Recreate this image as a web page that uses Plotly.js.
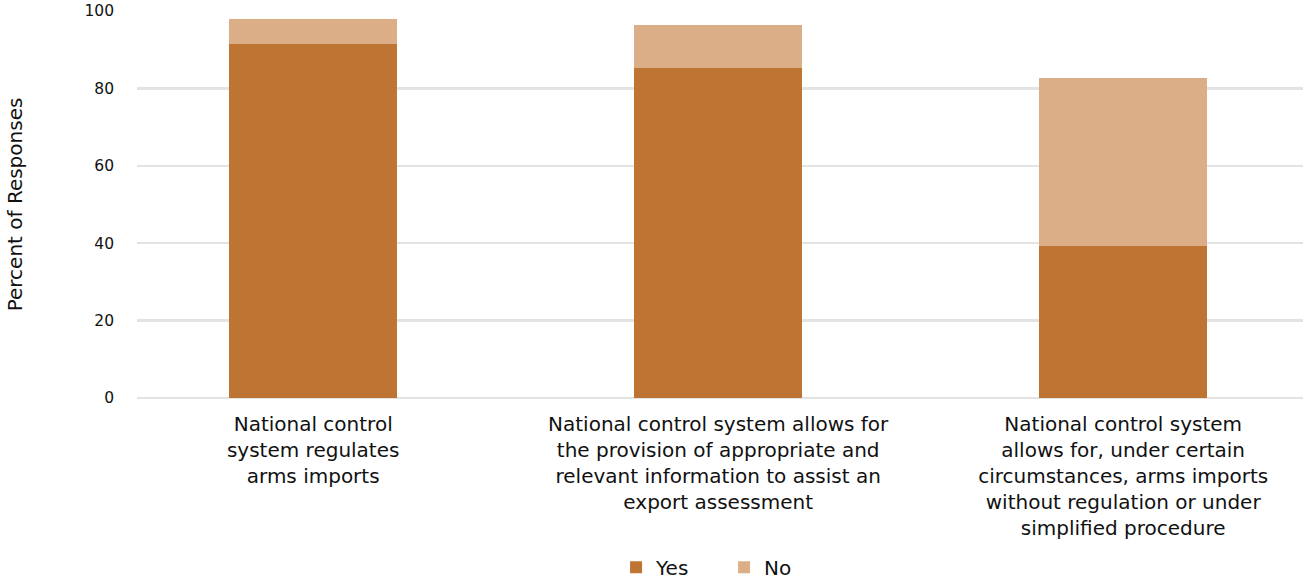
<!DOCTYPE html>
<html>
<head>
<meta charset="utf-8">
<script src="https://cdn.plot.ly/plotly-3.0.1.min.js"></script>
<style>html,body{margin:0;padding:0;background:#fff;}#chart{width:1303px;height:580px;}</style>
</head>
<body>
<div id="chart"></div>
<script>
const categories = [
  "National control<br>system regulates<br>arms imports",
  "National control system allows for<br>the provision of appropriate and<br>relevant information to assist an<br>export assessment",
  "National control system<br>allows for, under certain<br>circumstances, arms imports<br>without regulation or under<br>simplified procedure"
];
const yesValues = [91.5, 85.3, 39.4];
const noValues = [6.4, 11.1, 43.3];
const yTicks = [0, 20, 40, 60, 80, 100];

const FONT = "'DejaVu Sans', sans-serif";

const traces = [
  {type: "bar", name: "Yes", x: categories, y: yesValues, marker: {color: "#BE7533"}, width: 0.415},
  {type: "bar", name: "No", x: categories, y: noValues, marker: {color: "#DBAE87"}, width: 0.415}
];

const layout = {
  width: 1303, height: 580,
  barmode: "stack",
  margin: {l: 137, r: 0, t: 11, b: 182},
  paper_bgcolor: "#fff", plot_bgcolor: "#fff",
  font: {family: FONT, color: "#111"},
  showlegend: true,
  legend: {orientation: "h", x: 0.4728, xref: "container", xanchor: "left",
           y: 0.022, yref: "container", yanchor: "middle", entrywidth: 63, entrywidthmode: "pixels",
           font: {size: 20, family: FONT, color: "#111"}, traceorder: "normal", itemwidth: 30},
  xaxis: {type: "category", range: [-0.435, 2.444], showgrid: false, zeroline: false, showline: false,
          tickfont: {size: 20, family: FONT, color: "#111"}, ticks: "", ticklabelstandoff: 12, automargin: false},
  yaxis: {range: [0, 100], tickvals: yTicks, ticktext: yTicks.map(String), showgrid: true,
          gridcolor: "#e3e3e3", gridwidth: 2.5, zeroline: true, zerolinecolor: "#e3e3e3", zerolinewidth: 2.5,
          showline: false,
          tickfont: {size: 15.5, family: FONT, color: "#111"}, ticklabelstandoff: 22,
          title: {text: "Percent of Responses", font: {size: 20, family: FONT, color: "#111"}, standoff: 56},
          automargin: false}
};

Plotly.newPlot("chart", traces, layout, {displayModeBar: false, staticPlot: true});
</script>
</body>
</html>
